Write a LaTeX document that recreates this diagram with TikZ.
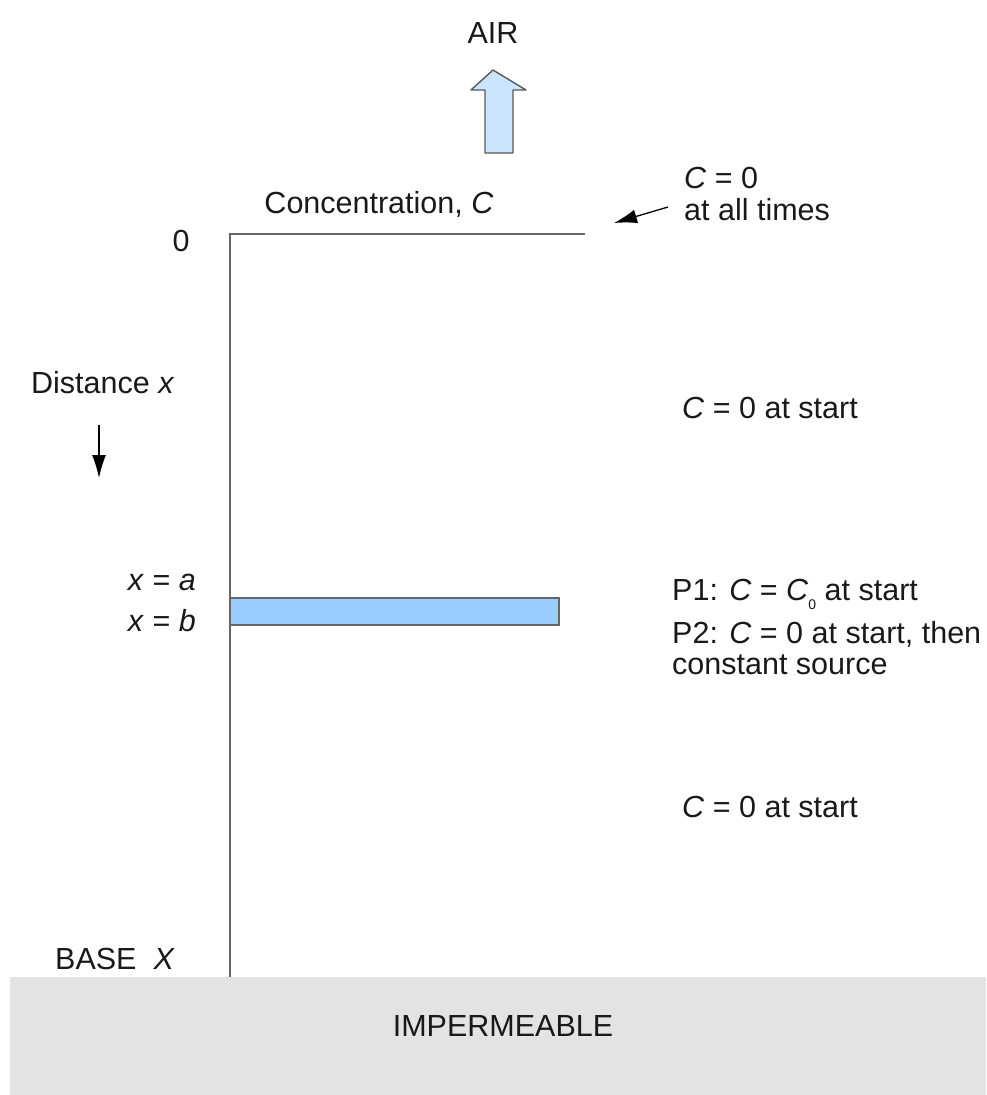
\documentclass[tikz,border=0pt]{standalone}
\usepackage{fontspec}
\setmainfont{Liberation Sans}
\usetikzlibrary{arrows.meta}
\begin{document}
\begin{tikzpicture}[x=1pt,y=-1pt,
  lbl/.style={inner sep=0pt,font=\fontsize{30.5}{36}\selectfont,text=black!90},
  axisline/.style={draw=black!60,line width=1.6pt},
  ptr/.style={draw=black,line width=1.3pt,-{Latex[length=23pt,width=14pt]}}]
\useasboundingbox (0,0) rectangle (986,1095);
% impermeable base
\fill[black!11] (10,977) rectangle (986,1095);
\node[lbl] (imp) at (503,1026) {IMPERMEABLE};
% air arrow
\node[lbl] (air) at (493,33) {AIR};
\draw[draw=black!65,fill={rgb,255:red,204;green,229;blue,255},line width=1.4pt,line join=round]
  (485,153) -- (485,90) -- (471,90) -- (493,70) -- (526,90) -- (513,90) -- (513,153) -- cycle;
% axes
\coordinate (origin) at (230,234);
\coordinate (axend) at (585,234);
\coordinate (axbot) at (230,977);
\draw[axisline] (axend) -- (origin) -- (axbot);
\node[lbl] (zero) at (181,241) {0};
\node[lbl] (conc) at (379,204) {Concentration, \textit{C}};
% top condition
\node[lbl,anchor=west] (c0a) at (684,178) {\textit{C} = 0};
\node[lbl,anchor=west] (c0b) at (684,210) {at all times};
\coordinate (ptail) at (668,207);
\coordinate (phead) at (614,223);
\draw[ptr] (ptail) -- (phead);
% distance
\node[lbl,anchor=west] (dist) at (31,383) {Distance \textit{x}};
\coordinate (dtail) at (99,425);
\coordinate (dhead) at (99,478);
\draw[ptr] (dtail) -- (dhead);
% start conditions
\node[lbl,anchor=west] (s1) at (682,408) {\textit{C} = 0 at start};
\node[lbl,anchor=west] (s2) at (682,807) {\textit{C} = 0 at start};
% layer
\node[lbl,anchor=east] (xa) at (196,582) {\textit{x} = \textit{a}};
\node[lbl,anchor=east] (xb) at (196,621) {\textit{x} = \textit{b}};
\draw[draw=black!60,fill={rgb,255:red,153;green,204;blue,255},line width=1.4pt] (230,598) rectangle (559,625);
\node[lbl,anchor=west] (p1) at (672,594) {P1: \textit{C} = \textit{C}\raisebox{-0.3em}{\fontsize{14}{14}\selectfont 0} at start};
\node[lbl,anchor=west] (p2) at (672,634) {P2: \textit{C} = 0 at start, then};
\node[lbl,anchor=west] (p3) at (672,665) {constant source};
% base
\node[lbl,anchor=west] (base) at (55,959) {BASE\ \ \textit{X}};
\end{tikzpicture}
\end{document}
